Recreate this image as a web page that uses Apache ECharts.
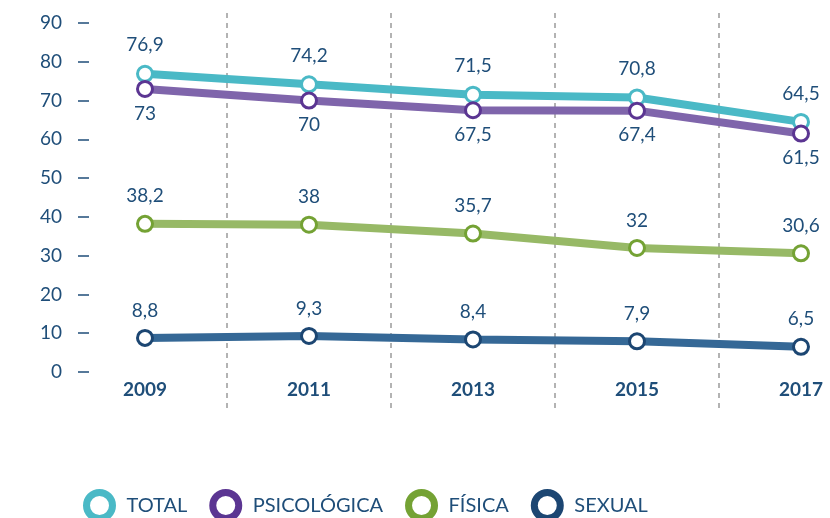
<!DOCTYPE html>
<html lang="es">
<head>
    <meta charset="utf-8">
    <title>Violencia</title>
    <script src="https://cdn.jsdelivr.net/npm/echarts@6/dist/echarts.min.js"></script>
    <style>
        html, body { margin: 0; padding: 0; background: #fff; overflow: hidden; }
        /* el gráfico original está cortado a la derecha */
        #chart { width: 883px; height: 518px; }
    </style>
</head>
<body>
<div id="chart"></div>
<script>
    // datos
    let years = ['2009', '2011', '2013', '2015', '2017'];
    let yTicks = [0, 10, 20, 30, 40, 50, 60, 70, 80, 90];
    let total = [76.9, 74.2, 71.5, 70.8, 64.5];
    let psicologica = [73, 70, 67.5, 67.4, 61.5];
    let fisica = [38.2, 38, 35.7, 32, 30.6];
    let sexual = [8.8, 9.3, 8.4, 7.9, 6.5];

    let textColor = '#1f4e79';
    let font = 'Lato';

    function coma(p) {
        return String(p.value).replace('.', ',');
    }

    function serie(name, data, lineColor, ringColor, pos, dist) {
        return {
            name: name,
            type: 'line',
            xAxisIndex: 0,
            yAxisIndex: 0,
            data: data,
            symbol: 'circle',
            symbolSize: 15,
            lineStyle: { color: lineColor, width: 8 },
            itemStyle: { color: '#fff', borderColor: ringColor, borderWidth: 3 },
            label: {
                show: true,
                position: pos,
                distance: dist,
                formatter: coma,
                color: textColor,
                fontFamily: font,
                fontSize: 19
            },
            emphasis: { disabled: true }
        };
    }

    let chart = echarts.init(document.getElementById('chart'));
    let option = {
        animation: false,
        textStyle: { fontFamily: font },
        grid: [
            { left: 63, right: 0, top: 23, height: 349 },
            { left: 63, right: 0, top: 13, height: 397 }
        ],
        xAxis: [
            {
                type: 'category',
                gridIndex: 0,
                data: years,
                boundaryGap: true,
                axisLine: { show: false },
                axisTick: { show: false },
                axisLabel: {
                    color: textColor,
                    fontFamily: font,
                    fontSize: 19,
                    fontWeight: 'bold',
                    margin: 8
                },
                splitLine: { show: false }
            },
            {
                type: 'category',
                gridIndex: 1,
                data: years,
                boundaryGap: true,
                axisLine: { show: false },
                axisTick: { show: false },
                axisLabel: { show: false },
                splitLine: {
                    show: true,
                    showMinLine: false,
                    lineStyle: { color: '#b3b3b3', type: [5, 5], width: 2 }
                }
            }
        ],
        yAxis: [
            {
                type: 'value',
                gridIndex: 0,
                min: yTicks[0],
                max: yTicks[yTicks.length - 1],
                interval: 10,
                offset: -26,
                axisLine: { show: false },
                axisTick: {
                    show: true,
                    length: 11,
                    lineStyle: { color: textColor, width: 1.5 }
                },
                axisLabel: {
                    color: textColor,
                    fontFamily: font,
                    fontSize: 19,
                    margin: 27
                },
                splitLine: { show: false }
            },
            {
                type: 'value',
                gridIndex: 1,
                show: false
            }
        ],
        legend: {
            left: 83,
            top: 489,
            padding: 0,
            itemWidth: 26,
            itemHeight: 26,
            itemGap: 22,
            icon: 'circle',
            textStyle: {
                color: textColor,
                fontFamily: font,
                fontSize: 20,
                padding: [0, 0, 0, 9]
            },
            data: [
                { name: 'TOTAL', itemStyle: { color: '#fff', borderColor: '#4ab9c6', borderWidth: 7 } },
                { name: 'PSICOLÓGICA', itemStyle: { color: '#fff', borderColor: '#5b3592', borderWidth: 7 } },
                { name: 'FÍSICA', itemStyle: { color: '#fff', borderColor: '#74a234', borderWidth: 7 } },
                { name: 'SEXUAL', itemStyle: { color: '#fff', borderColor: '#1c4672', borderWidth: 7 } }
            ]
        },
        series: [
            serie('TOTAL', total, '#4ab9c6', '#4ab9c6', 'top', 10),
            serie('PSICOLÓGICA', psicologica, '#7f65ab', '#5b3592', 'bottom', 6),
            serie('FÍSICA', fisica, '#97b966', '#74a234', 'top', 9),
            serie('SEXUAL', sexual, '#356896', '#1c4672', 'top', 9)
        ]
    };
    chart.setOption(option);
</script>
</body>
</html>
